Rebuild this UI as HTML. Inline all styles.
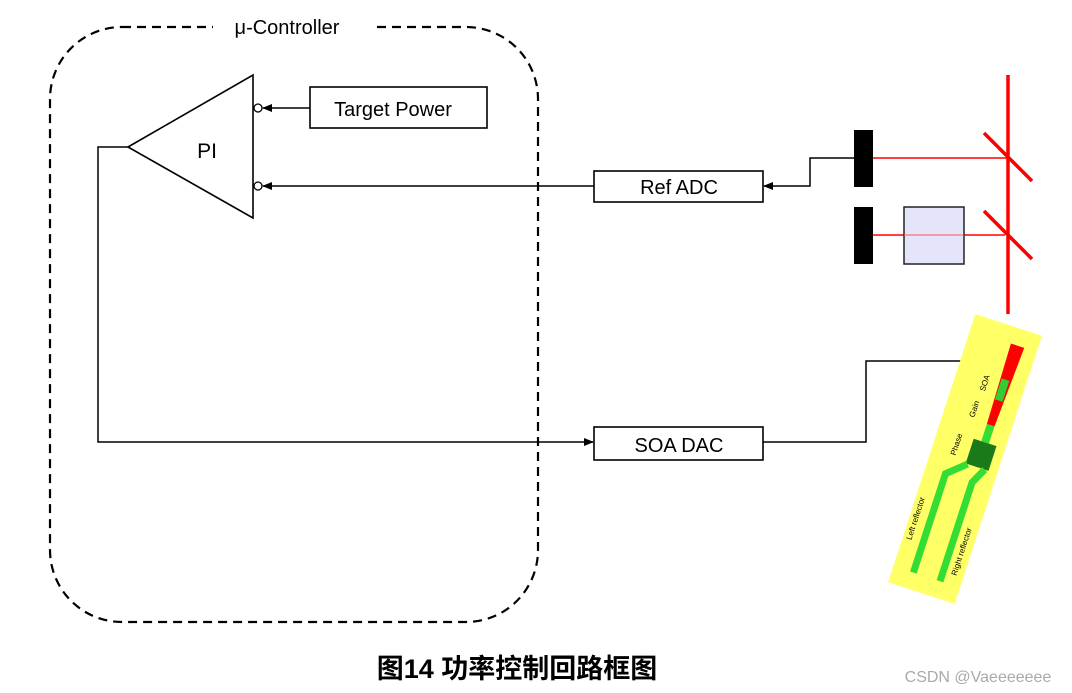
<!DOCTYPE html>
<html><head><meta charset="utf-8"><style>
body{margin:0;background:#fff;width:1072px;height:693px;overflow:hidden}
svg{display:block}
text{font-family:"Liberation Sans",Arial,sans-serif}
</style></head><body>
<svg width="1072" height="693" viewBox="0 0 1072 693" xmlns="http://www.w3.org/2000/svg">
<defs>
<marker id="a" markerWidth="10" markerHeight="8" refX="9" refY="4" orient="auto" markerUnits="userSpaceOnUse"><path d="M0,0 L10,4 L0,8 z" fill="#000"/></marker>
</defs>
<rect x="50" y="27" width="488" height="595" rx="72" fill="none" stroke="#000" stroke-width="2.2" stroke-dasharray="9,6"/>
<rect x="213" y="12" width="162" height="30" fill="#fff"/>
<text x="287" y="34" font-size="20" text-anchor="middle">μ-Controller</text>
<polygon points="128,147 253,75 253,218" fill="#fff" stroke="#000" stroke-width="1.6"/>
<text x="207" y="158" font-size="21" text-anchor="middle">PI</text>
<circle cx="258" cy="108" r="4" fill="#fff" stroke="#000" stroke-width="1.3"/>
<circle cx="258" cy="186" r="4" fill="#fff" stroke="#000" stroke-width="1.3"/>
<rect x="310" y="87" width="177" height="41" fill="#fff" stroke="#000" stroke-width="1.6"/>
<text x="393" y="116" font-size="20" text-anchor="middle">Target Power</text>
<line x1="310" y1="108" x2="263" y2="108" stroke="#000" stroke-width="1.5" marker-end="url(#a)"/>
<polyline points="128,147 98,147 98,442 593,442" fill="none" stroke="#000" stroke-width="1.5" marker-end="url(#a)"/>
<rect x="594" y="427" width="169" height="33" fill="#fff" stroke="#000" stroke-width="1.6"/>
<text x="679" y="452" font-size="20" text-anchor="middle">SOA DAC</text>
<polyline points="763,442 866,442 866,361 975,361" fill="none" stroke="#000" stroke-width="1.5" marker-end="url(#a)"/>
<rect x="594" y="171" width="169" height="31" fill="#fff" stroke="#000" stroke-width="1.6"/>
<text x="679" y="194" font-size="20" text-anchor="middle">Ref ADC</text>
<line x1="594" y1="186" x2="263" y2="186" stroke="#000" stroke-width="1.5" marker-end="url(#a)"/>
<polyline points="855,158 810,158 810,186 764,186" fill="none" stroke="#000" stroke-width="1.5" marker-end="url(#a)"/>
<line x1="873" y1="158" x2="1008" y2="158" stroke="#f00" stroke-width="1.5"/>
<line x1="873" y1="235" x2="1005" y2="235" stroke="#f00" stroke-width="1.5"/>
<rect x="904" y="207" width="60" height="57" fill="#e4e4fa" stroke="#222" stroke-width="1.5"/>
<line x1="904" y1="235" x2="964" y2="235" stroke="#f55" stroke-width="1"/>
<rect x="854" y="130" width="19" height="57" fill="#000"/>
<rect x="854" y="207" width="19" height="57" fill="#000"/>
<line x1="1008" y1="75" x2="1008" y2="314" stroke="#f00" stroke-width="3.5"/>
<line x1="984" y1="133" x2="1032" y2="181" stroke="#f00" stroke-width="3.5"/>
<line x1="984" y1="211" x2="1032" y2="259" stroke="#f00" stroke-width="3.5"/>
<g transform="translate(965,459) rotate(18)">
<rect x="-35" y="-141" width="70" height="282" fill="#ffff66"/>
<polygon points="8,-124 22,-124 18,-40 10,-40" fill="#f00"/>
<rect x="10" y="-88" width="8" height="22" fill="#33cc33"/>
<rect x="10" y="-40" width="8" height="18" fill="#33dd33"/>
<rect x="2" y="-22" width="24" height="26" fill="#1a7a1a"/>
<path d="M4,4 L-14,20 L-14,124 M22,4 L14,20 L14,124" fill="none" stroke="#33dd33" stroke-width="7"/>
<text x="-12" y="-80" font-size="8" transform="rotate(-90 -2 -80)">SOA</text>
<text x="-8" y="-46" font-size="8" transform="rotate(-90 -4 -46)">Gain</text>
<text x="-14" y="-4" font-size="8" transform="rotate(-90 -10 -4)">Phase</text>
<text x="-30" y="90" font-size="8" transform="rotate(-90 -26 90)">Left reflector</text>
<text x="24" y="110" font-size="8" transform="rotate(-90 28 110)">Right reflector</text>
</g>
<text x="517" y="678" font-size="27" font-weight="bold" text-anchor="middle" style='font-family:"Liberation Sans","Noto Sans CJK SC",sans-serif'>图14 功率控制回路框图</text>
<text x="978" y="682" font-size="16" fill="#aaa" text-anchor="middle">CSDN @Vaeeeeeee</text>
</svg>
</body></html>
